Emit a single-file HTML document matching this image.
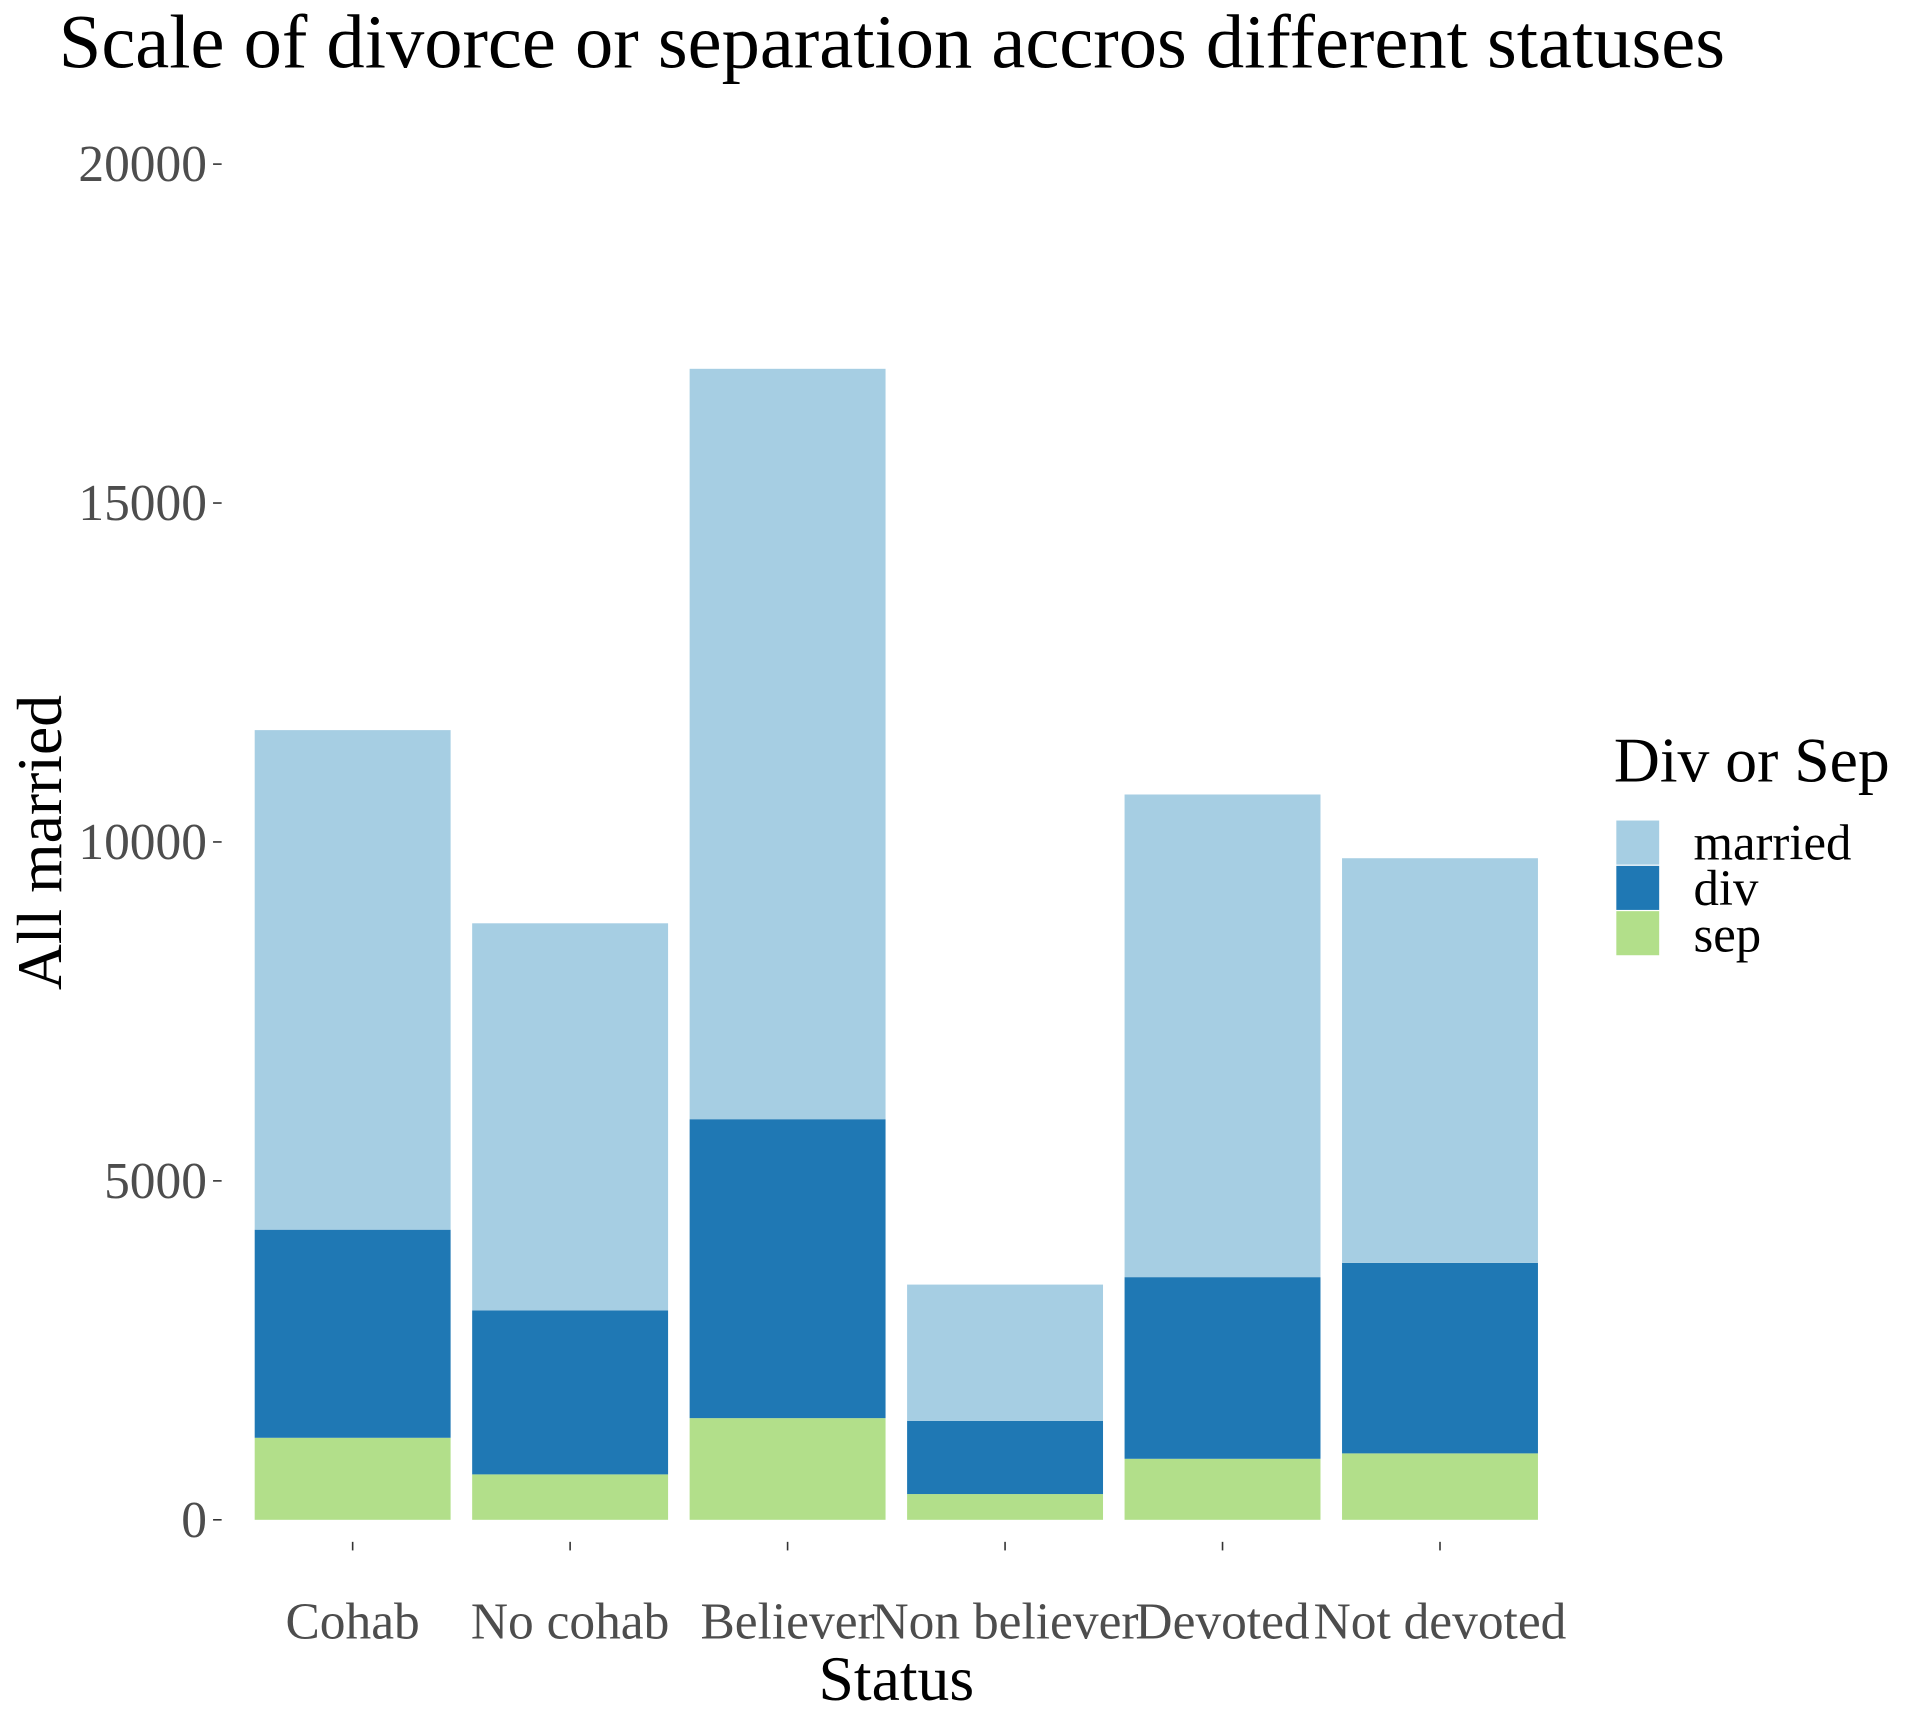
<!DOCTYPE html>
<html><head><meta charset="utf-8"><style>
html,body{margin:0;padding:0;background:#fff;}
svg{display:block;font-family:"Liberation Serif",serif;}
</style></head><body>
<svg id="chart" width="1920" height="1728" viewBox="0 0 1568 1411" preserveAspectRatio="none" xmlns="http://www.w3.org/2000/svg">
<text x="48" y="55" font-size="62.5" fill="#000">Scale of divorce or separation accros different statuses</text>
<g id="yaxis"></g>
<g id="xaxis"></g>
<g id="bars"></g>
<text transform="translate(50,688) rotate(-90)" text-anchor="middle" font-size="52" fill="#000">All married</text>
<text x="732" y="1388" text-anchor="middle" font-size="52" fill="#000">Status</text>
<g>
<text x="1318" y="638" font-size="52" fill="#000">Div or Sep</text>
<rect x="1320" y="670" width="35" height="36" fill="#a6cee3"/>
<rect x="1320" y="707" width="35" height="36" fill="#1f78b4"/>
<rect x="1320" y="744" width="35" height="36" fill="#b2df8a"/>
<text x="1383" y="702" font-size="41.5">married</text>
<text x="1383" y="739" font-size="41.5">div</text>
<text x="1383" y="777" font-size="41.5">sep</text>
</g>
</svg>
<script>
const categories = ["Cohab","No cohab","Believer","Non believer","Devoted","Not devoted"];
const sepValues = [1210, 670, 1500, 380, 900, 980];
const divValues = [3070, 2420, 4410, 1080, 2680, 2810];
const marriedValues = [7370, 5710, 11070, 2010, 7120, 5970];
const yTicks = [0, 5000, 10000, 15000, 20000];
const yTickLabels = ["0","5000","10000","15000","20000"];

const NS = "http://www.w3.org/2000/svg";
const y0 = 1241, y1 = 134, yMax = 20000;
const yScale = v => y0 - (v / yMax) * (y0 - y1);
const step = 177.6, firstCenter = 288, barW = 160;
const xScale = i => firstCenter + i * step;
function mk(tag, attrs, parent){const e=document.createElementNS(NS,tag);for(const k in attrs)e.setAttribute(k,attrs[k]);parent.appendChild(e);return e;}
const yaxis=document.getElementById('yaxis'), xaxis=document.getElementById('xaxis'), bars=document.getElementById('bars');
yTicks.forEach((t,i)=>{
  const y=yScale(t);
  const l=mk('line',{x1:174,x2:181,y1:y,y2:y,stroke:'#333','stroke-width':1.3},yaxis);
  
  
  const tx=mk('text',{x:169,y:y+14,'text-anchor':'end','font-size':42,fill:'#4d4d4d'},yaxis);
  tx.textContent=yTickLabels[i];
  
  
});
categories.forEach((c,i)=>{
  const cx=xScale(i);
  const l=mk('line',{x1:cx,x2:cx,y1:1259,y2:1266,stroke:'#333','stroke-width':1.3},xaxis);
  
  
  const tx=mk('text',{x:cx,y:1338,'text-anchor':'middle','font-size':42,fill:'#4d4d4d'},xaxis);
  tx.textContent=c;
  
  
  const segs=[[sepValues[i],'#b2df8a','sep'],[divValues[i],'#1f78b4','div'],[marriedValues[i],'#a6cee3','married']];
  let base=0;
  segs.forEach(s=>{
    const top=base+s[0];
    const r=mk('rect',{x:cx-barW/2,y:yScale(top),width:barW,height:yScale(base)-yScale(top),fill:s[1]},bars);
    
    
    base=top;
  });
});
</script>
</body></html>
